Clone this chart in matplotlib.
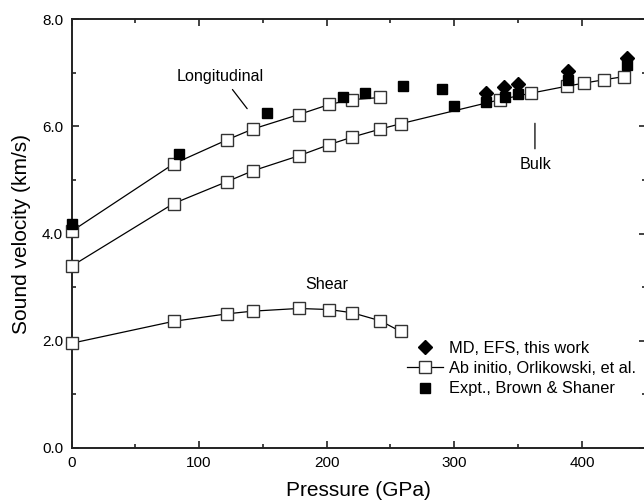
import matplotlib
matplotlib.use("Agg")
import matplotlib.pyplot as plt
from matplotlib.ticker import MultipleLocator

plt.rcParams['font.family'] = ['Liberation Sans', 'DejaVu Sans']

# Ab initio (Orlikowski et al.)
p_long = [0, 80, 122, 142, 178, 202, 220, 242]
v_long = [4.04, 5.30, 5.75, 5.95, 6.22, 6.41, 6.50, 6.54]

p_bulk = [0, 80, 122, 142, 178, 202, 220, 242, 258, 336, 360, 388, 402, 417, 433]
v_bulk = [3.39, 4.56, 4.97, 5.17, 5.45, 5.66, 5.80, 5.95, 6.05, 6.50, 6.62, 6.75, 6.81, 6.87, 6.93]

p_shear = [0, 80, 122, 142, 178, 202, 220, 242, 258]
v_shear = [1.95, 2.36, 2.50, 2.55, 2.60, 2.58, 2.52, 2.37, 2.17]

# Experiment (Brown & Shaner)
p_expt = [0, 84, 153, 213, 230, 260, 290, 300, 325, 340, 350, 389, 435]
v_expt = [4.18, 5.49, 6.25, 6.55, 6.63, 6.76, 6.70, 6.39, 6.45, 6.54, 6.61, 6.86, 7.15]

# MD, EFS (this work)
p_md = [325, 339, 350, 389, 435]
v_md = [6.63, 6.74, 6.79, 7.03, 7.28]

fig = plt.figure(figsize=(6.44, 5.04), dpi=100)
ax = fig.add_axes([71.5 / 644, 1 - 447.7 / 504, 574.2 / 644, 428.4 / 504])

line_kw = dict(color='black', lw=0.9, marker='s', markersize=8,
               markerfacecolor='white', markeredgecolor='#333333', markeredgewidth=1.0)
ax.plot(p_long, v_long, clip_on=False, zorder=3, **line_kw)
ax.plot(p_bulk, v_bulk, clip_on=False, zorder=3, **line_kw)
ax.plot(p_shear, v_shear, clip_on=False, zorder=3, **line_kw)

ax.plot(p_expt, v_expt, ls='none', marker='s', markersize=7, color='black',
        clip_on=False, zorder=4)
ax.plot(p_md, v_md, ls='none', marker='D', markersize=7, color='black',
        clip_on=False, zorder=5)

# legend proxies
h_md, = ax.plot([], [], ls='none', marker='D', markersize=7, color='black')
h_ab, = ax.plot([], [], **line_kw)
h_ex, = ax.plot([], [], ls='none', marker='s', markersize=7, color='black')
ax.legend([h_md, h_ab, h_ex],
          ['MD, EFS, this work', 'Ab initio, Orlikowski, et al.', 'Expt., Brown & Shaner'],
          loc='upper left', bbox_to_anchor=(0.584, 0.250), frameon=False,
          fontsize=11.8, borderaxespad=0, borderpad=0, handlelength=2.2,
          handletextpad=0.35, labelspacing=0.33)

# annotations
ax.annotate('', xy=(139, 6.29), xytext=(124.8, 6.73),
            arrowprops=dict(arrowstyle='-', color='black', lw=0.9))
ax.text(116.4, 6.94, 'Longitudinal', ha='center', va='center', fontsize=11.6)
ax.annotate('', xy=(363.2, 5.53), xytext=(363.2, 6.11),
            arrowprops=dict(arrowstyle='-', color='black', lw=0.9))
ax.text(364, 5.28, 'Bulk', ha='center', va='center', fontsize=11.6)
ax.text(200, 3.05, 'Shear', ha='center', va='center', fontsize=11.6)

ax.set_xlim(0, 450)
ax.set_ylim(0, 8)
ax.xaxis.set_major_locator(MultipleLocator(100))
ax.xaxis.set_minor_locator(MultipleLocator(50))
ax.yaxis.set_major_locator(MultipleLocator(2))
ax.yaxis.set_minor_locator(MultipleLocator(1))
ax.set_xticks([0, 100, 200, 300, 400])
ax.set_xticklabels(['0', '100', '200', '300', '400'])
ax.set_yticks([0, 2, 4, 6, 8])
ax.set_yticklabels(['0.0', '2.0', '4.0', '6.0', '8.0'])
ax.tick_params(which='both', direction='in', top=True, right=True, labelsize=11, colors='#222222', labelcolor='black')
ax.tick_params(which='major', length=5, width=1.2, pad=6)
ax.tick_params(which='minor', length=3, width=1.2)
for s in ax.spines.values():
    s.set_linewidth(1.4)
    s.set_color('#222222')

ax.set_xlabel('Pressure (GPa)', fontsize=15, labelpad=8)
ax.set_ylabel('Sound velocity (km/s)', fontsize=15, labelpad=8)

fig.savefig('out.png', dpi=100)
